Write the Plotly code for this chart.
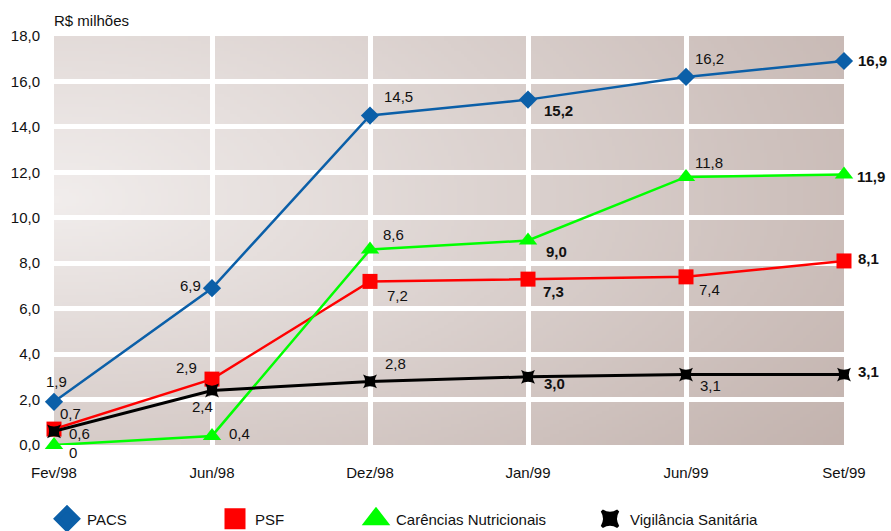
import base64
import struct
import zlib
import plotly.graph_objects as go

# ---------------- data ----------------
categories = ["Fev/98", "Jun/98", "Dez/98", "Jan/99", "Jun/99", "Set/99"]
pacs = [1.9, 6.9, 14.5, 15.2, 16.2, 16.9]
psf = [0.7, 2.9, 7.2, 7.3, 7.4, 8.1]
carencias = [0.0, 0.4, 8.6, 9.0, 11.8, 11.9]
vigilancia = [0.6, 2.4, 2.8, 3.0, 3.1, 3.1]
series_names = ["PACS", "PSF", "Carências Nutricionais", "Vigilância Sanitária"]
y_title = "R$ milhões"

# ---------------- styles ----------------
FONT = "Liberation Sans, Arial, Helvetica, sans-serif"
colors = ["#0b5fa8", "#ff0000", "#00ff00", "#000000"]
symbols = ["diamond", "square", "triangle-up", "star-diamond"]
msizes = [14, 15, 16, 14]
angles = [0, 0, 0, 45]
lwidths = [2.5, 2.5, 2.5, 3]

# label offsets (pixels) relative to the points, per series / point
shifts = [
    [(2, 20), (-22, 3), (28, 19), (30, -11), (23, 18), (28, 0)],
    [(16, 16), (-26, 12), (27, -14), (25, -12), (23, -13), (24, 2)],
    [(19, -7), (27, 2), (23, 15), (28, -11), (23, 14), (27, -2)],
    [(25, -2), (-10, -16), (25, 18), (26, -7), (24, -11), (24, 3)],
]
bold_cols = {3, 5}


def fmt(v):
    if v == 0:
        return "0"
    return f"{v:.1f}".replace(".", ",")


# ---------------- gradient background image ----------------
def gradient_png(w, h):
    light = (241, 237, 236)
    dark = (194, 178, 173)
    rows = []
    for j in range(h):
        v = j / (h - 1)
        row = bytearray([0])
        for i in range(w):
            u = i / (w - 1)
            k = 0.75 if v < 0.4 else 0.95
            t = ((0.81 * u) ** 2 + (k * (v - 0.4)) ** 2) ** 0.5
            t = min(t, 1.0)
            row += bytes(int(round(light[c] + (dark[c] - light[c]) * t)) for c in range(3))
        rows.append(bytes(row))
    raw = b"".join(rows)

    def chunk(tag, data):
        c = struct.pack(">I", len(data)) + tag + data
        return c + struct.pack(">I", zlib.crc32(tag + data) & 0xffffffff)

    png = b"\x89PNG\r\n\x1a\n"
    png += chunk(b"IHDR", struct.pack(">IIBBBBB", w, h, 8, 2, 0, 0, 0))
    png += chunk(b"IDAT", zlib.compress(raw, 9))
    png += chunk(b"IEND", b"")
    return "data:image/png;base64," + base64.b64encode(png).decode()


bg_src = gradient_png(240, 124)

# ---------------- figure ----------------
fig = go.Figure()
all_series = [pacs, psf, carencias, vigilancia]

for s, vals in enumerate(all_series):
    fig.add_trace(go.Scatter(
        x=categories, y=vals, mode="lines+markers", name=series_names[s],
        line=dict(color=colors[s], width=lwidths[s]),
        marker=dict(symbol=symbols[s], size=msizes[s], color=colors[s],
                    angle=angles[s], line=dict(width=0)),
        cliponaxis=False, showlegend=False, hoverinfo="x+y+name",
    ))

# legend entries placed in container coordinates (left edge of each legend box)
legend_px = [47, 215, 356, 590]
legend_ids = ["legend", "legend2", "legend3", "legend4"]
for s in range(4):
    fig.add_trace(go.Scatter(
        x=[None], y=[None], mode="markers", name=series_names[s],
        marker=dict(symbol=symbols[s], size=16, color=colors[s], angle=angles[s],
                    line=dict(width=5 if s < 3 else 3, color=colors[s])),
        showlegend=True, legend=legend_ids[s],
    ))

annotations = []
for s, vals in enumerate(all_series):
    for i, v in enumerate(vals):
        txt = fmt(v)
        if i in bold_cols:
            txt = f"<b>{txt}</b>"
        dx, dy = shifts[s][i]
        annotations.append(dict(
            x=categories[i], y=v, xref="x", yref="y", text=txt, showarrow=False,
            xshift=dx, yshift=dy, xanchor="center", yanchor="middle",
            font=dict(family=FONT, size=15, color="#111111"),
        ))
annotations.append(dict(
    x=0, y=1, xref="paper", yref="paper", text=y_title, showarrow=False,
    xanchor="left", yanchor="middle", xshift=-2, yshift=16,
    font=dict(family=FONT, size=15, color="#111111"),
))

legends = {}
for s, lid in enumerate(legend_ids):
    legends[lid] = dict(
        orientation="h", xref="container", yref="container",
        x=legend_px[s] / 891, xanchor="left",
        y=1 - 519 / 531, yanchor="middle",
        font=dict(family=FONT, size=15, color="#111111"),
        bgcolor="rgba(0,0,0,0)", borderwidth=0, itemwidth=30,
    )

fig.update_layout(
    width=891, height=531,
    margin=dict(l=54, r=47, t=36, b=85.5, autoexpand=False),
    paper_bgcolor="white", plot_bgcolor="rgba(0,0,0,0)",
    separators=",.",
    font=dict(family=FONT, size=15, color="#111111"),
    annotations=annotations,
    images=[dict(source=bg_src, xref="paper", yref="paper", x=0, y=1,
                 sizex=1, sizey=1, xanchor="left", yanchor="top",
                 sizing="stretch", layer="below")],
    xaxis=dict(
        type="category", categoryorder="array", categoryarray=categories,
        range=[0, 5], showgrid=True, gridcolor="white", gridwidth=5,
        zeroline=False, showline=False,
        ticks="outside", ticklen=14, tickcolor="rgba(0,0,0,0)",
        tickfont=dict(family=FONT, size=15, color="#111111"),
    ),
    yaxis=dict(
        range=[0, 18], dtick=2, tick0=0, tickformat=".1f",
        showgrid=True, gridcolor="white", gridwidth=5,
        zeroline=False, showline=False,
        ticks="outside", ticklen=10, tickcolor="rgba(0,0,0,0)",
        tickfont=dict(family=FONT, size=15, color="#111111"),
    ),
    showlegend=True,
    **legends,
)

fig.write_html("out.html")
